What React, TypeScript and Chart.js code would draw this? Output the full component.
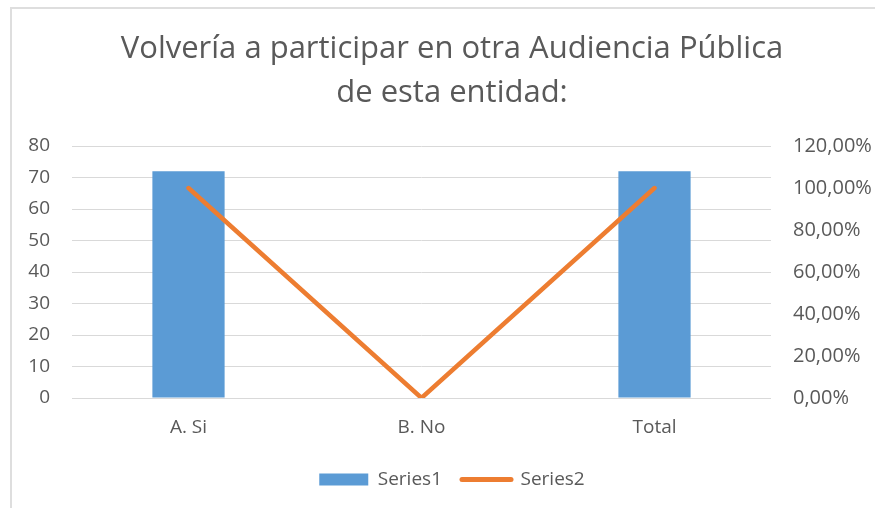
import React, { useEffect, useRef } from "react";
import { Chart, registerables } from "chart.js";

Chart.register(...registerables);

const titleLines = ["Volvería a participar en otra Audiencia Pública", "de esta entidad:"];
const categories = ["A. Si", "B. No", "Total"];
const series1 = [72, 0, 72];
const series2 = [1, 0, 1];
const series1Name = "Series1";
const series2Name = "Series2";

const BLUE = "#5B9BD5";
const ORANGE = "#ED7D31";
const TEXT = "#595959";
const GRID = "#d9d9d9";
const FONT = "'Open Sans', sans-serif";

export default function App() {
  const ref = useRef<HTMLCanvasElement | null>(null);
  useEffect(() => {
    if (!ref.current) return;
    const chart = new Chart(ref.current, {
      data: {
        labels: categories,
        datasets: [
          {
            type: "bar",
            label: series1Name,
            data: series1,
            backgroundColor: BLUE,
            borderWidth: 0,
            categoryPercentage: 1,
            barPercentage: 0.31,
            yAxisID: "y",
            order: 1,
          },
          {
            type: "line",
            label: series2Name,
            data: series2,
            borderColor: ORANGE,
            backgroundColor: ORANGE,
            borderWidth: 4.5,
            borderCapStyle: "round",
            borderJoinStyle: "round",
            pointRadius: 0,
            pointHoverRadius: 0,
            yAxisID: "y1",
            order: 0,
          },
        ],
      } as any,
      options: {
        responsive: true,
        maintainAspectRatio: false,
        animation: false,
        layout: { padding: { left: 0, right: 0, top: 0, bottom: 8 } },
        scales: {
          x: {
            grid: { display: false },
            border: { display: false },
            ticks: { color: TEXT, font: { family: FONT, size: 19 }, padding: 10 },
            afterFit: (s: any) => { s.height = 52; },
          },
          y: {
            position: "left",
            min: 0,
            max: 80,
            ticks: { stepSize: 10, color: TEXT, font: { family: FONT, size: 19 }, padding: 22 },
            grid: { color: GRID, lineWidth: 1, drawTicks: false },
            border: { display: false },
            afterFit: (s: any) => { s.width = 60; },
          },
          y1: {
            position: "right",
            min: 0,
            max: 1.2,
            ticks: {
              stepSize: 0.2,
              color: TEXT,
              font: { family: FONT, size: 20 },
              padding: 22,
              callback: (v: any) => (Number(v) * 100).toFixed(2).replace(".", ",") + "%",
            },
            grid: { display: false, drawTicks: false },
            border: { display: false },
            afterFit: (s: any) => { s.width = 121; },
          },
        },
        plugins: {
          title: {
            display: true,
            text: titleLines,
            color: TEXT,
            font: { family: FONT, size: 31, weight: "normal", lineHeight: 1.42 },
            padding: { top: 18, bottom: 31 },
          },
          legend: {
            position: "bottom",
            labels: {
              color: TEXT,
              font: { family: FONT, size: 19 },
              usePointStyle: true,
              pointStyleWidth: 49,
              boxHeight: 12,
              padding: 20,
              sort: (a: any, b: any) => a.datasetIndex - b.datasetIndex,
              generateLabels: (c: any) => {
                const items = Chart.defaults.plugins.legend.labels.generateLabels(c);
                return items.map((it: any) => {
                  if (it.datasetIndex === 0) {
                    return { ...it, pointStyle: "rect", fillStyle: BLUE, strokeStyle: BLUE, lineWidth: 0 };
                  }
                  return { ...it, pointStyle: "line", fillStyle: ORANGE, strokeStyle: ORANGE, lineWidth: 5, lineCap: "round" };
                });
              },
            },
          },
          tooltip: { enabled: false },
        },
      } as any,
    });
    return () => chart.destroy();
  }, []);

  return (
    <div
      style={{
        position: "absolute",
        left: 10,
        top: 7,
        width: 865,
        height: 501,
        borderTop: "2px solid #dedede",
        borderLeft: "2px solid #dedede",
        boxSizing: "border-box",
        background: "#fff",
        overflow: "hidden",
      }}
    >
      <div style={{ position: "absolute", left: 0, top: 0, width: 880, height: 498 }}>
        <canvas ref={ref} />
      </div>
    </div>
  );
}
